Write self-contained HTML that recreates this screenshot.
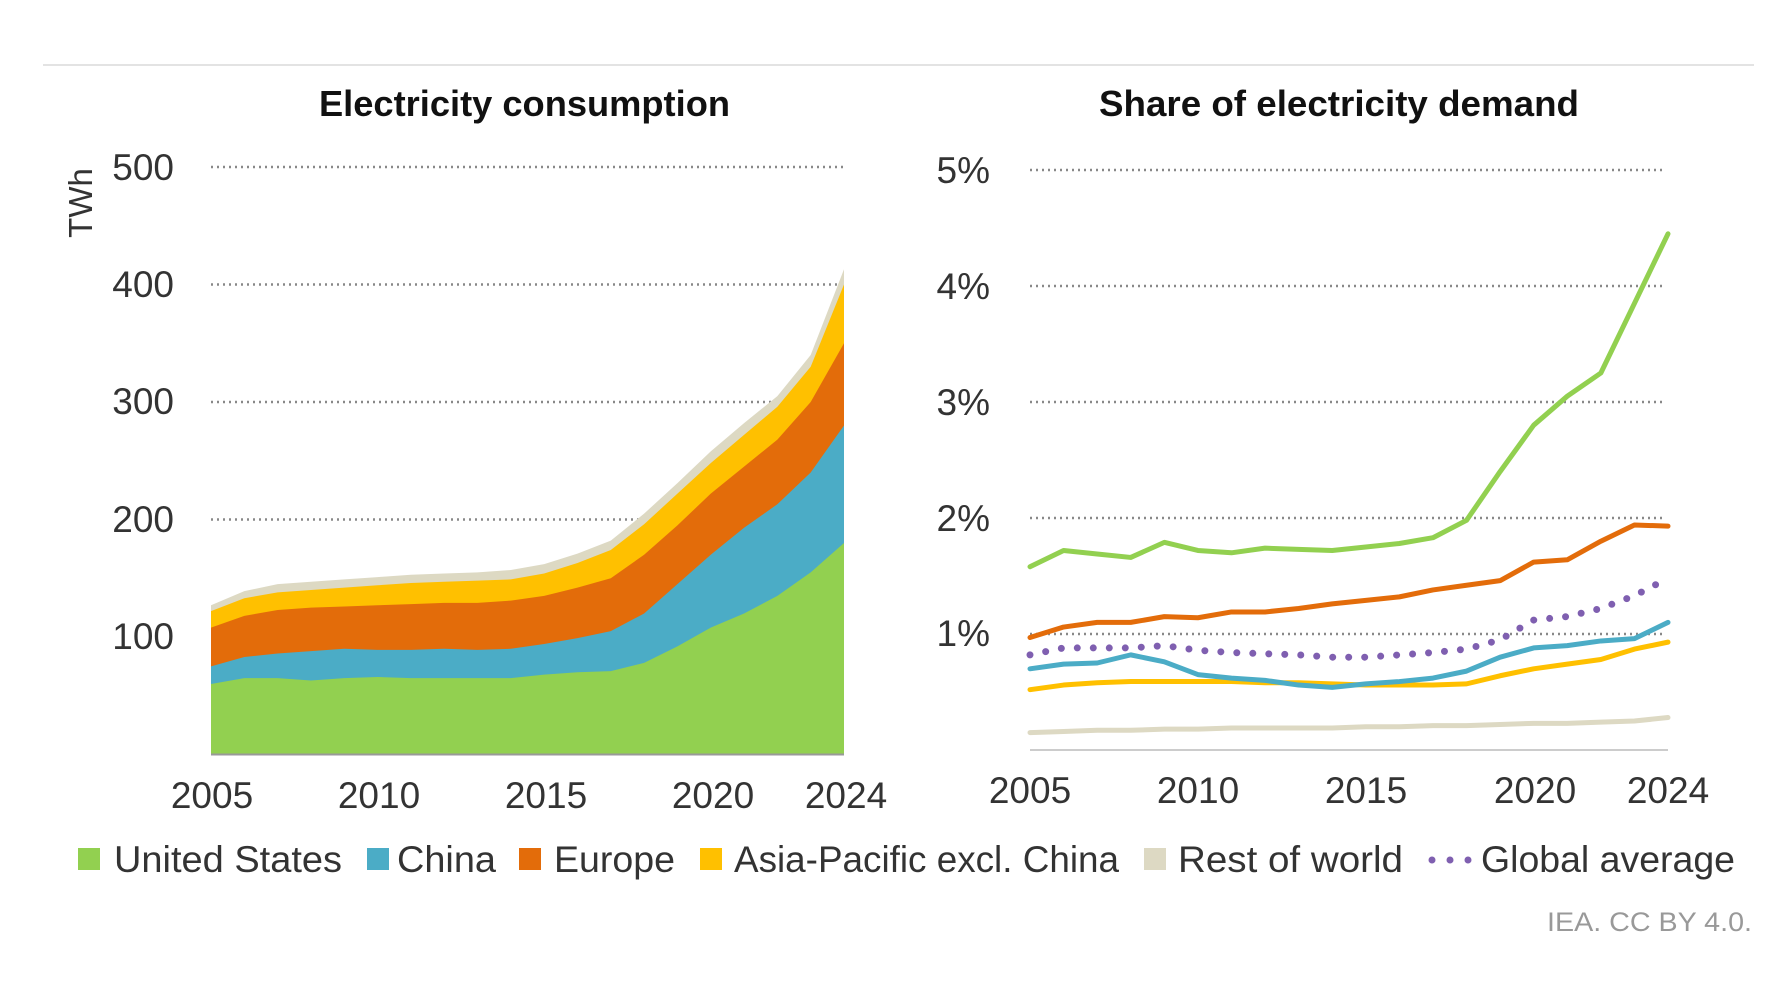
<!DOCTYPE html>
<html><head><meta charset="utf-8"><style>
html,body{margin:0;padding:0;background:#fff;}
svg{display:block;font-family:"Liberation Sans",sans-serif;}
</style></head><body>
<svg id="s" width="1780" height="984" viewBox="0 0 1780 984" xmlns="http://www.w3.org/2000/svg">
<line x1="43" y1="65" x2="1754" y2="65" stroke="#e3e3e3" stroke-width="2"/>
<text x="319" y="116" textLength="411" lengthAdjust="spacingAndGlyphs" font-size="36" font-weight="bold" fill="#111">Electricity consumption</text>
<text x="1099" y="116" textLength="480" lengthAdjust="spacingAndGlyphs" font-size="36" font-weight="bold" fill="#111">Share of electricity demand</text>
<g fill="#333" font-size="37" text-anchor="end">
<text x="174" y="180">500</text><text x="174" y="297">400</text><text x="174" y="414">300</text><text x="174" y="532">200</text><text x="174" y="649">100</text>
<text x="990" y="183">5%</text><text x="990" y="299">4%</text><text x="990" y="415">3%</text><text x="990" y="531">2%</text><text x="990" y="646">1%</text>
</g>
<text transform="translate(92,203) rotate(-90)" text-anchor="middle" font-size="33" fill="#333">TWh</text>
<g fill="#333" font-size="37" text-anchor="middle">
<text x="212" y="808">2005</text><text x="379" y="808">2010</text><text x="546" y="808">2015</text><text x="713" y="808">2020</text><text x="846" y="808">2024</text>
<text x="1030" y="803">2005</text><text x="1198" y="803">2010</text><text x="1366" y="803">2015</text><text x="1535" y="803">2020</text><text x="1668" y="803">2024</text>
</g>
<g id="L"></g><g id="R"></g>
<g font-size="37" fill="#333" lengthAdjust="spacingAndGlyphs">
<rect x="78" y="848" width="22" height="22" fill="#92d050"/><text x="114" y="872" textLength="228" lengthAdjust="spacingAndGlyphs">United States</text>
<rect x="367" y="848" width="22" height="22" fill="#4bacc6"/><text x="397" y="872" textLength="99" lengthAdjust="spacingAndGlyphs">China</text>
<rect x="519" y="848" width="22" height="22" fill="#e36c0a"/><text x="554" y="872" textLength="121" lengthAdjust="spacingAndGlyphs">Europe</text>
<rect x="700" y="848" width="22" height="22" fill="#ffc000"/><text x="734" y="872" textLength="385" lengthAdjust="spacingAndGlyphs">Asia-Pacific excl. China</text>
<rect x="1144" y="848" width="22" height="22" fill="#ddd9c3"/><text x="1178" y="872" textLength="225" lengthAdjust="spacingAndGlyphs">Rest of world</text>
<circle cx="1432" cy="860" r="3.5" fill="#7f5fb0"/><circle cx="1450" cy="860" r="3.5" fill="#7f5fb0"/><circle cx="1468" cy="860" r="3.5" fill="#7f5fb0"/>
<text x="1481" y="872" textLength="254" lengthAdjust="spacingAndGlyphs">Global average</text>
</g>
<text x="1752" y="931" text-anchor="end" font-size="27" textLength="205" lengthAdjust="spacingAndGlyphs" fill="#999">IEA. CC BY 4.0.</text>
</svg>
<script>
var NS="http://www.w3.org/2000/svg";
function el(p,t,a){var e=document.createElementNS(NS,t);for(var k in a)e.setAttribute(k,a[k]);p.appendChild(e);return e;}
var L=document.getElementById('L'),R=document.getElementById('R');
var lx=function(i){return 211+i*(633/19);},ly=function(v){return 754.5-v*1.175;};
[500,400,300,200,100].forEach(function(v){el(L,'line',{x1:211,x2:847,y1:ly(v),y2:ly(v),stroke:'#888','stroke-width':2.5,'stroke-dasharray':'2 4'});});
var S=[[60,65,65,63,65,66,65,65,65,65,68,70,71,78,92,108,120,135,155,180],
[75,83,86,88,90,89,89,90,89,90,94,99,105,120,145,170,193,213,240,280],
[108,118,123,125,126,127,128,129,129,131,135,142,150,170,195,222,245,268,300,350],
[122,133,138,140,142,144,146,147,148,149,154,163,174,196,222,248,272,296,330,400],
[127,139,145,147,149,151,153,154,155,157,162,171,182,205,231,258,282,305,340,413]];
var C=['#92d050','#4bacc6','#e36c0a','#ffc000','#ddd9c3'];
for(var k=4;k>=0;k--){var d='M'+lx(0)+','+ly(0);for(var i=0;i<20;i++)d+=' L'+lx(i)+','+ly(S[k][i]);d+=' L'+lx(19)+','+ly(0)+'Z';el(L,'path',{d:d,fill:C[k]});}
el(L,'line',{x1:211,x2:844,y1:ly(0),y2:ly(0),stroke:'#999','stroke-width':2});
var rx=function(i){return 1030+i*(638/19);},ry=function(v){return 750-v*116;};
[5,4,3,2,1].forEach(function(v){el(R,'line',{x1:1030,x2:1666,y1:ry(v),y2:ry(v),stroke:'#888','stroke-width':2.5,'stroke-dasharray':'2 4'});});
el(R,'line',{x1:1030,x2:1668,y1:ry(0),y2:ry(0),stroke:'#ccc','stroke-width':2});
var D={
g:[0.15,0.16,0.17,0.17,0.18,0.18,0.19,0.19,0.19,0.19,0.20,0.20,0.21,0.21,0.22,0.23,0.23,0.24,0.25,0.28],
y:[0.52,0.56,0.58,0.59,0.59,0.59,0.59,0.58,0.58,0.57,0.56,0.56,0.56,0.57,0.64,0.70,0.74,0.78,0.87,0.93],
b:[0.70,0.74,0.75,0.82,0.76,0.65,0.62,0.60,0.56,0.54,0.57,0.59,0.62,0.68,0.80,0.88,0.90,0.94,0.96,1.10],
p:[0.82,0.88,0.88,0.88,0.90,0.86,0.84,0.83,0.82,0.80,0.80,0.82,0.84,0.87,0.95,1.12,1.15,1.22,1.33,1.48],
o:[0.97,1.06,1.10,1.10,1.15,1.14,1.19,1.19,1.22,1.26,1.29,1.32,1.38,1.42,1.46,1.62,1.64,1.80,1.94,1.93],
u:[1.58,1.72,1.69,1.66,1.79,1.72,1.70,1.74,1.73,1.72,1.75,1.78,1.83,1.98,2.4,2.8,3.05,3.25,3.85,4.45]};
function line(a,c,dash){var d='';for(var i=0;i<20;i++)d+=(i?' L':'M')+rx(i)+','+ry(a[i]);var o={d:d,fill:'none',stroke:c,'stroke-width':dash?7:5,'stroke-linejoin':'round','stroke-linecap':'round'};if(dash)o['stroke-dasharray']='0 16';el(R,'path',o);}
line(D.g,'#ddd9c3');line(D.y,'#ffc000');line(D.b,'#4bacc6');line(D.p,'#7f5fb0',1);line(D.o,'#e36c0a');line(D.u,'#92d050');
</script>
</body></html>
